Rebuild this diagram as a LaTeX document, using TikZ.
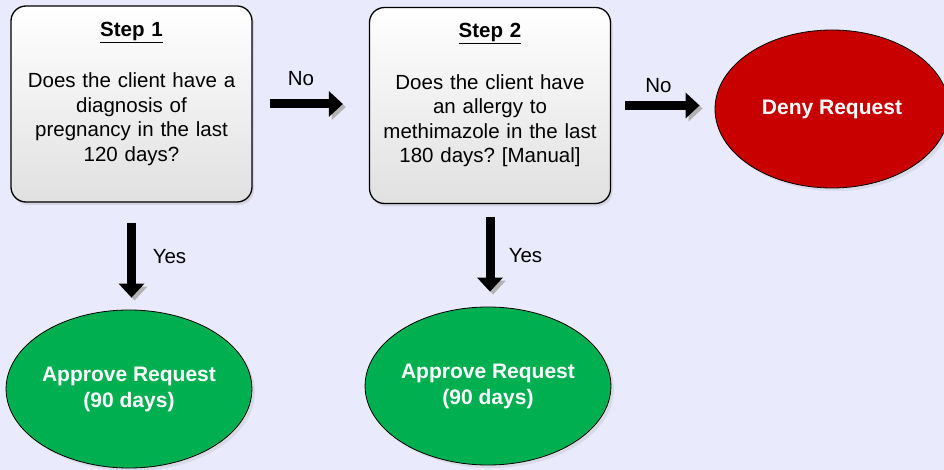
\documentclass[tikz,border=0pt]{standalone}
\usepackage{fontspec}
\setmainfont{Liberation Sans}
\usetikzlibrary{shapes.geometric,shadows,arrows.meta}
\definecolor{bglav}{RGB}{233,234,251}
\definecolor{denyred}{RGB}{200,0,0}
\definecolor{okgreen}{RGB}{0,176,80}
\frenchspacing

\begin{document}
\begin{tikzpicture}[x=1pt,y=-1pt,
    stepbox/.style={draw, line width=1.3pt, rounded corners=15pt,
      minimum width=241pt, minimum height=196pt, text width=228pt, align=center,
      top color=white, bottom color=black!12,
      drop shadow={opacity=0.2, shadow xshift=2pt, shadow yshift=-3pt},
      font=\fontsize{20.5}{24.5}\selectfont},
    result/.style={draw, ellipse, line width=0.8pt, minimum width=242pt,
      minimum height=158pt, inner sep=0pt, text=white, align=center,
      drop shadow={opacity=0.15, shadow xshift=3pt, shadow yshift=-3pt},
      font=\bfseries\fontsize{21}{26}\selectfont},
    flow/.style={line width=9pt, -{Triangle[width=25pt,length=14pt]},
      preaction={draw=black!30, transform canvas={shift={(3pt,-3pt)}}}},
    answer/.style={anchor=base, font=\fontsize{20.5}{24.5}\selectfont}]

    % 背景
    \useasboundingbox (0,0) rectangle (944,470);
    \fill[bglav] (0,0) rectangle (944,470);

    % 判断框
    \node[stepbox] (step1) at (131.5,104) {\underline{\textbf{Step 1}}\\[27pt]
      Does the client have a\\ diagnosis of\\ pregnancy in the last\\ 120 days?\\ \mbox{}};
    \node[stepbox] (step2) at (490,105.5) {\underline{\textbf{Step 2}}\\[27pt]
      Does the client have\\ an allergy to\\ methimazole in the last\\ 180 days? [Manual]\\ \mbox{}};

    % 结果
    \node[result, fill=denyred, minimum width=234pt] (deny) at (832,109) {Deny Request};
    \node[result, fill=okgreen] (approve1) at (129,389) {Approve Request\\(90 days)};
    \node[result, fill=okgreen] (approve2) at (488,386) {Approve Request\\(90 days)};

    % 箭头
    \draw[flow, shorten <=17pt, shorten >=26pt] (step1.east) -- (step1.east -| step2.west);
    \draw[flow, shorten <=14pt, shorten >=15pt] (step2.east) -- (step2.east -| deny.west);
    \draw[flow, shorten <=20pt, shorten >=12pt] (step1.south) -- (step1.south |- approve1.north);
    \draw[flow, shorten <=13pt, shorten >=15pt] (step2.south) -- (step2.south |- approve2.north);

    % 标签
    \node[answer] (no1) at (301,86) {No};
    \node[answer] (no2) at (658.5,92.7) {No};
    \node[answer] (yes1) at (169.5,263) {Yes};
    \node[answer] (yes2) at (525.5,262) {Yes};
\end{tikzpicture}
\end{document}
